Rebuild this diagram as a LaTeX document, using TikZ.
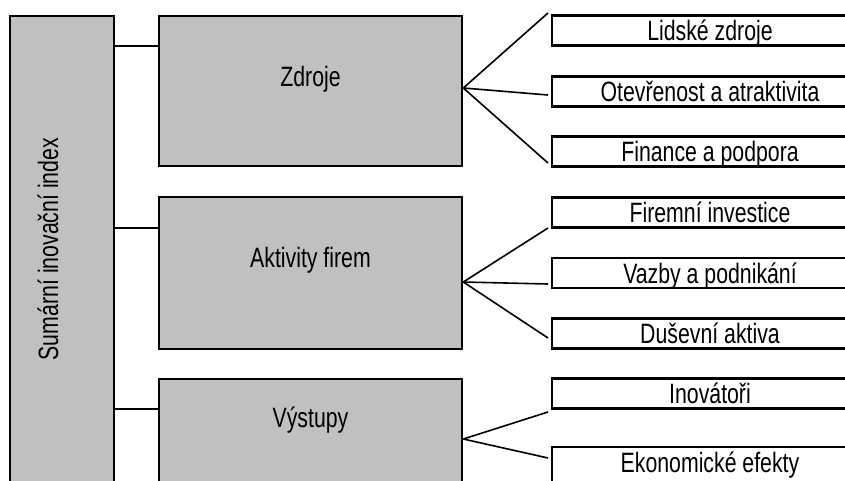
\documentclass[tikz,border=0pt]{standalone}
\usepackage{fontspec}
\setmainfont{Liberation Sans}[FakeStretch=0.76]
\usetikzlibrary{positioning}
\definecolor{boxgray}{RGB}{192,192,192}

\begin{document}
\begin{tikzpicture}[x=1pt, y=-1pt,
    every node/.style={font=\fontsize{28}{32}\selectfont, inner sep=0pt},
    greybox/.style={draw, line width=2.6pt, fill=boxgray},
    leafbox/.style={draw, line width=2.6pt, fill=white, minimum width=316pt,
        minimum height=30pt, text height=20pt, text depth=0pt},
    caption/.style={text height=20pt, text depth=0pt},
    link/.style={line width=2.6pt},
    fan/.style={line width=1.6pt}]
    \useasboundingbox (0,0) rectangle (845,480);
    \clip (0,0) rectangle (845,480);

    % souhrnny index
    \node[greybox, minimum width=104pt, minimum height=474pt] (index) at (62,253) {};
    \node[caption, rotate=90] (indexText) at (48,249) {Sumární inovační index};

    % hlavni skupiny
    \node[greybox, minimum width=303pt, minimum height=150pt] (zdroje) at (310.5,91) {};
    \node[greybox, minimum width=303pt, minimum height=152pt] (aktivity) at (310.5,273) {};
    \node[greybox, minimum width=303pt, minimum height=111pt] (vystupy) at (310.5,434.5) {};
    \node[caption] (zdrojeText) at (310.5,76) {Zdroje};
    \node[caption] (aktivityText) at (310.5,257.5) {Aktivity firem};
    \node[caption] (vystupyText) at (310.5,417.5) {Výstupy};

    % dimenze
    \node[leafbox] (lidske) at (710,30.5) {Lidské zdroje};
    \node[leafbox] (otevrenost) at (710,91.5) {Otevřenost a atraktivita};
    \node[leafbox] (finance) at (710,151.5) {Finance a podpora};
    \node[leafbox] (investice) at (710,212.5) {Firemní investice};
    \node[leafbox] (vazby) at (710,273) {Vazby a podnikání};
    \node[leafbox] (dusevni) at (710,333.5) {Duševní aktiva};
    \node[leafbox] (inovatori) at (710,393.5) {Inovátoři};
    \node[leafbox, minimum height=38pt, text depth=7pt] (efekty) at (710,466) {Ekonomické efekty};

    % spojnice index -> skupiny
    \draw[link] (index.east |- 0,46) -- (zdroje.west |- 0,46);
    \draw[link] (index.east |- 0,228) -- (aktivity.west |- 0,228);
    \draw[link] (index.east |- 0,409) -- (vystupy.west |- 0,409);

    % vejire
    \coordinate (hubZ) at (zdroje.east |- 0,88);
    \coordinate (hubA) at (aktivity.east |- 0,282);
    \coordinate (hubV) at (vystupy.east |- 0,439);
    \foreach \n/\e in {lidske/13, otevrenost/95, finance/163, investice/228,
        vazby/284, dusevni/338, inovatori/412, efekty/458}
        \coordinate (end-\n) at (548,\e);

    \foreach \n in {lidske, otevrenost, finance}
        \draw[fan] (hubZ) -- (end-\n);
    \foreach \n in {investice, vazby, dusevni}
        \draw[fan] (hubA) -- (end-\n);
    \foreach \n in {inovatori, efekty}
        \draw[fan] (hubV) -- (end-\n);
\end{tikzpicture}
\end{document}
